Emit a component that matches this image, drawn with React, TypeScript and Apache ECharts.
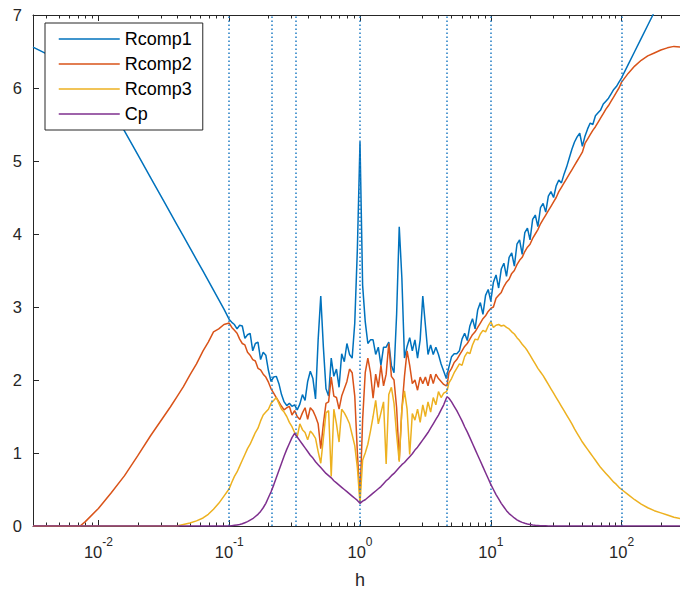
import React, { useEffect, useRef } from "react";
import * as echarts from "echarts";

// ---- data ----
const X_MIN = 0.0031623;
const X_MAX = 316.23;

const h = [
  0.0031623, 0.0039811, 0.0050119, 0.0063096, 0.0072444, 0.0079433, 0.01, 0.012589, 0.015849, 0.019953,
  0.025119, 0.031623, 0.035481, 0.039811, 0.044668, 0.050119, 0.056234, 0.063096, 0.069183, 0.075858,
  0.083176, 0.091201,
  0.1, 0.10471, 0.10965, 0.11482, 0.12023, 0.12589, 0.13183, 0.13804, 0.14454, 0.15136,
  0.15849, 0.16596, 0.17378, 0.18197, 0.19055, 0.19953, 0.20893, 0.21878, 0.22909, 0.23988,
  0.25119, 0.26303, 0.27542, 0.2884, 0.302, 0.31623, 0.33113, 0.34674, 0.36308, 0.38019,
  0.39811, 0.41687, 0.43652, 0.45709, 0.47863, 0.50119, 0.52481, 0.54954, 0.57544, 0.60256,
  0.63096, 0.66069, 0.69183, 0.72444, 0.75858, 0.79433, 0.83176, 0.87096, 0.91201, 0.95499,
  1, 1.0471, 1.0965, 1.1482, 1.2023, 1.2589, 1.3183, 1.3804, 1.4454, 1.5136,
  1.5849, 1.6596, 1.7378, 1.8197, 1.9055, 1.9953, 2.0893, 2.1878, 2.2909, 2.3988,
  2.5119, 2.6303, 2.7542, 2.884, 3.02, 3.1623, 3.3113, 3.4674, 3.6308, 3.8019,
  3.9811, 4.1687, 4.3652, 4.5709,
  4.6416,
  4.7863, 5.0119, 5.2481, 5.4954, 5.7544, 6.0256, 6.3096, 6.6069, 6.9183, 7.2444,
  7.5858, 7.9433, 8.3176, 8.7096, 9.1201, 9.5499,
  10, 10.471, 10.965, 11.482, 12.023, 12.589, 13.183, 13.804, 14.454, 15.136,
  15.849, 16.596, 17.378, 18.197, 19.055, 19.953, 20.893, 21.878, 22.909, 23.988,
  25.119, 26.303, 27.542, 28.84, 30.2, 31.623, 33.113, 34.674, 36.308, 38.019,
  39.811, 41.687, 43.652, 45.709, 47.863, 50.119, 52.481, 54.954, 57.544, 60.256,
  63.096, 66.069, 69.183, 72.444, 75.858, 79.433, 83.176, 87.096, 91.201, 95.499,
  100, 112.2, 125.89, 141.25, 158.49, 177.83, 199.53, 223.87, 251.19, 281.84, 316.23,
];

const rcomp1 = [
  6.56, 6.47, 6.40, 6.29, 6.20, 6.14, 5.95, 5.70, 5.41, 5.09,
  4.77, 4.45, 4.29, 4.13, 3.97, 3.81, 3.65, 3.49, 3.36, 3.23,
  3.10, 2.97,
  2.83, 2.79, 2.76, 2.70, 2.75, 2.74, 2.57, 2.62, 2.64, 2.40,
  2.50, 2.52, 2.28, 2.38, 2.34, 2.13, 1.98, 2.04, 2.05, 1.95,
  1.80, 1.70, 1.65, 1.68, 1.64, 1.66, 1.59, 1.67, 1.80, 1.72,
  1.98, 2.12, 2.02, 1.74, 2.55, 3.15, 2.45, 1.88, 1.78, 2.30,
  2.05, 2.15, 1.90, 2.36, 2.25, 2.50, 2.35, 2.30, 2.78, 3.80,
  5.26, 3.30, 2.80, 2.50, 2.55, 2.55, 2.35, 2.45, 2.20, 2.45,
  2.45, 2.52, 2.20, 2.10, 2.90, 4.10, 3.40, 2.30, 2.46, 2.58,
  2.40, 2.55, 2.30, 2.55, 3.15, 2.75, 2.35, 2.48, 2.35, 2.45,
  2.35, 2.22, 2.12, 2.02,
  2.08,
  2.18, 2.32, 2.36, 2.36, 2.40, 2.56, 2.64, 2.54, 2.74, 2.84,
  2.70, 2.96, 3.06, 2.90, 3.16, 3.24,
  3.08, 3.34, 3.44, 3.26, 3.52, 3.60, 3.42, 3.68, 3.74, 3.56,
  3.86, 3.92, 3.72, 4.02, 4.08, 3.92, 4.20, 4.26, 4.10, 4.36,
  4.42, 4.30, 4.52, 4.58, 4.50, 4.66, 4.74, 4.70, 4.82, 4.92,
  5.04, 5.16, 5.26, 5.33, 5.38, 5.20, 5.34, 5.44, 5.52, 5.50,
  5.62, 5.66, 5.70, 5.78, 5.82, 5.86, 5.92, 5.98, 6.02, 6.08,
  6.14, 6.32, 6.50, 6.68, 6.86, 7.04, 7.22, 7.40, 7.58, 7.76, 7.94,
];

const rcomp2 = [
  0, 0, 0, 0, 0, 0.06, 0.24, 0.46, 0.69, 0.96,
  1.24, 1.50, 1.63, 1.77, 1.91, 2.07, 2.22, 2.40, 2.52, 2.66,
  2.70, 2.76,
  2.78, 2.72, 2.68, 2.64, 2.56, 2.50, 2.48, 2.38, 2.34, 2.28,
  2.26, 2.16, 2.14, 2.08, 2.04, 1.97, 1.88, 1.82, 1.76, 1.70,
  1.64, 1.59, 1.62, 1.64, 1.52, 1.58, 1.50, 1.46, 1.55, 1.62,
  1.46, 1.62, 1.58, 1.50, 1.40, 1.06, 1.40, 1.68, 1.70, 2.04,
  1.78, 1.76, 1.60, 1.78, 1.88, 1.98, 2.15, 2.10, 1.78, 1.00,
  0.38, 1.45, 2.10, 2.30, 2.10, 1.75, 2.08, 1.90, 2.20, 1.92,
  2.08, 2.50, 2.05, 2.00, 1.62, 0.90, 1.60, 2.05, 2.40, 2.20,
  1.95, 2.00, 1.86, 2.04, 1.95, 2.04, 1.92, 2.08, 1.95, 2.08,
  2.02, 1.98, 1.94, 1.92,
  1.94,
  2.10, 2.16, 2.24, 2.28, 2.34, 2.40, 2.46, 2.50, 2.56, 2.62,
  2.66, 2.72, 2.78, 2.84, 2.88, 2.94,
  2.98, 3.00, 3.12, 3.16, 3.20, 3.28, 3.34, 3.38, 3.46, 3.50,
  3.58, 3.64, 3.68, 3.76, 3.82, 3.86, 3.94, 4.00, 4.06, 4.14,
  4.20, 4.26, 4.32, 4.38, 4.44, 4.50, 4.58, 4.64, 4.70, 4.76,
  4.82, 4.88, 4.94, 5.00, 5.06, 5.12, 5.24, 5.30, 5.36, 5.42,
  5.47, 5.53, 5.59, 5.65, 5.71, 5.76, 5.82, 5.88, 5.94, 6.00,
  6.08, 6.20, 6.30, 6.38, 6.44, 6.48, 6.52, 6.55, 6.57, 6.56, 6.56,
];

const rcomp3 = [
  0, 0, 0, 0, 0, 0, 0, 0, 0, 0,
  0, 0, 0, 0, 0.02, 0.04, 0.07, 0.11, 0.16, 0.23,
  0.31, 0.41,
  0.51, 0.60, 0.68, 0.74, 0.82, 0.90, 0.98, 1.06, 1.12, 1.20,
  1.28, 1.34, 1.44, 1.52, 1.56, 1.60, 1.68, 1.72, 1.76, 1.68,
  1.60, 1.56, 1.50, 1.42, 1.36, 1.28, 1.22, 1.40, 1.32, 1.28,
  1.18, 1.30, 1.26, 1.20, 1.02, 0.86, 1.20, 1.55, 1.58, 0.68,
  1.60, 1.40, 1.15, 1.60, 1.55, 1.48, 1.40, 1.25, 1.10, 0.80,
  0.31, 0.90, 1.00, 1.12, 1.30, 1.50, 1.72, 1.40, 1.55, 1.70,
  0.85, 1.80, 1.90, 1.68, 1.25, 0.88, 1.60, 1.85, 1.60, 0.98,
  1.54, 1.45, 1.60, 1.42, 1.66, 1.50, 1.70, 1.56, 1.76, 1.66,
  1.84, 1.76, 1.82, 1.84,
  1.86,
  1.96, 2.02, 2.10, 2.16, 2.22, 2.20, 2.32, 2.38, 2.36, 2.48,
  2.56, 2.55, 2.63, 2.68, 2.66, 2.74,
  2.80, 2.72, 2.75, 2.76, 2.74, 2.75, 2.72, 2.70, 2.66, 2.63,
  2.58, 2.54, 2.49, 2.45, 2.40, 2.34, 2.28, 2.22, 2.16, 2.11,
  2.06, 2.00, 1.94, 1.88, 1.82, 1.76, 1.70, 1.64, 1.58, 1.52,
  1.46, 1.40, 1.33, 1.27, 1.21, 1.15, 1.10, 1.05, 1.00, 0.95,
  0.90, 0.85, 0.80, 0.76, 0.72, 0.68, 0.64, 0.60, 0.57, 0.53,
  0.50, 0.43, 0.36, 0.30, 0.25, 0.21, 0.18, 0.15, 0.12, 0.10, 0.08,
];

const cp = [
  0, 0, 0, 0, 0, 0, 0, 0, 0, 0,
  0, 0, 0, 0, 0, 0, 0, 0, 0, 0,
  0, 0,
  0, 0.005, 0.01, 0.015, 0.02, 0.03, 0.045, 0.06, 0.08, 0.10,
  0.13, 0.16, 0.20, 0.25, 0.31, 0.39, 0.47, 0.56, 0.66, 0.76,
  0.86, 0.96, 1.05, 1.13, 1.21, 1.27, 1.22, 1.17, 1.12, 1.07,
  1.02, 0.97, 0.93, 0.88, 0.84, 0.80, 0.76, 0.72, 0.69, 0.66,
  0.62, 0.59, 0.56, 0.53, 0.50, 0.47, 0.44, 0.41, 0.38, 0.35,
  0.31, 0.34, 0.36, 0.39, 0.42, 0.45, 0.48, 0.51, 0.54, 0.58,
  0.62, 0.65, 0.69, 0.72, 0.76, 0.80, 0.84, 0.87, 0.91, 0.95,
  0.99, 1.04, 1.08, 1.13, 1.18, 1.23, 1.28, 1.34, 1.40, 1.46,
  1.52, 1.59, 1.66, 1.75,
  1.77,
  1.75, 1.70, 1.64, 1.58, 1.51, 1.44, 1.36, 1.29, 1.21, 1.13,
  1.05, 0.97, 0.89, 0.81, 0.73, 0.65,
  0.57, 0.50, 0.43, 0.37, 0.31, 0.26, 0.21, 0.17, 0.14, 0.11,
  0.085, 0.065, 0.05, 0.038, 0.028, 0.02, 0.015, 0.011, 0.008, 0.005,
  0.003, 0.002, 0.001, 0, 0, 0, 0, 0, 0, 0,
  0, 0, 0, 0, 0, 0, 0, 0, 0, 0,
  0, 0, 0, 0, 0, 0, 0, 0, 0, 0,
  0, 0, 0, 0, 0, 0, 0, 0, 0, 0, 0,
];

const seriesNames = ["Rcomp1", "Rcomp2", "Rcomp3", "Cp"];
const seriesColors = ["#0072BD", "#D95319", "#EDB120", "#7E2F8E"];
const xMajorTicks = [0.01, 0.1, 1, 10, 100];
const xMinorTicks = [
  0.004, 0.005, 0.006, 0.007, 0.008, 0.009,
  0.02, 0.03, 0.04, 0.05, 0.06, 0.07, 0.08, 0.09,
  0.2, 0.3, 0.4, 0.5, 0.6, 0.7, 0.8, 0.9,
  2, 3, 4, 5, 6, 7, 8, 9,
  20, 30, 40, 50, 60, 70, 80, 90,
  200, 300,
];
const markerH = [0.1, 0.215, 0.316, 1, 4.64, 10, 100];

export default function App() {
  const ref = useRef<HTMLDivElement>(null);

  useEffect(() => {
    if (!ref.current) return;
    const chart = echarts.init(ref.current, null, { renderer: "svg" });
    const font = "'Liberation Sans', Arial, Helvetica, sans-serif";
    const axisColor = "#262626";

    const xBase = (position: string) => ({
      type: "log",
      logBase: 10,
      min: X_MIN,
      max: X_MAX,
      gridIndex: 0,
      position,
      splitLine: { show: false },
      minorTick: { show: false },
      axisPointer: { show: false },
    });

    const allSeries = [rcomp1, rcomp2, rcomp3, cp];

    const option: any = {
      animation: false,
      backgroundColor: "#ffffff",
      grid: {
        left: 33,
        right: -7,
        top: 15,
        bottom: 73,
        containLabel: false,
        outerBoundsMode: "none",
      },
      legend: {
        data: seriesNames,
        orient: "vertical",
        left: 45,
        top: 23,
        backgroundColor: "#ffffff",
        borderColor: axisColor,
        borderWidth: 1,
        borderRadius: 0,
        padding: [7, 11, 7, 13],
        itemWidth: 61,
        itemHeight: 14,
        itemGap: 7,
        selectedMode: false,
        itemStyle: { opacity: 0 },
        lineStyle: { width: 1.5 },
        textStyle: { fontSize: 18, color: "#000", fontFamily: font },
      },
      xAxis: [
        {
          ...xBase("bottom"),
          name: "h",
          nameLocation: "middle",
          nameGap: 45,
          nameTextStyle: { fontSize: 18, color: axisColor, fontFamily: font },
          axisLine: { show: true, onZero: false, lineStyle: { color: axisColor, width: 1 } },
          axisTick: {
            show: true,
            inside: true,
            length: 6,
            customValues: xMajorTicks,
            lineStyle: { color: axisColor, width: 1 },
          },
          axisLabel: {
            show: true,
            customValues: xMajorTicks,
            margin: 10,
            formatter: (v: number) => `{b|10}{s|${Math.round(Math.log10(v))}}`,
            rich: {
              b: { fontSize: 16.5, fontFamily: font, color: axisColor, lineHeight: 24, verticalAlign: "bottom" },
              s: { fontSize: 12, fontFamily: font, color: axisColor, lineHeight: 11, verticalAlign: "top" },
            },
          },
        },
        {
          ...xBase("bottom"),
          axisLine: { show: false, onZero: false },
          axisLabel: { show: false },
          axisTick: {
            show: true,
            inside: true,
            length: 3.5,
            customValues: xMinorTicks,
            lineStyle: { color: axisColor, width: 1 },
          },
        },
        {
          ...xBase("top"),
          axisLine: { show: true, onZero: false, lineStyle: { color: axisColor, width: 1 } },
          axisLabel: { show: false },
          axisTick: {
            show: true,
            inside: true,
            length: 6,
            customValues: xMajorTicks,
            lineStyle: { color: axisColor, width: 1 },
          },
        },
        {
          ...xBase("top"),
          axisLine: { show: false, onZero: false },
          axisLabel: { show: false },
          axisTick: {
            show: true,
            inside: true,
            length: 3.5,
            customValues: xMinorTicks,
            lineStyle: { color: axisColor, width: 1 },
          },
        },
      ],
      yAxis: [
        {
          type: "value",
          min: 0,
          max: 7,
          interval: 1,
          position: "left",
          splitLine: { show: false },
          axisLine: { show: true, onZero: false, lineStyle: { color: axisColor, width: 1 } },
          axisTick: { show: true, inside: true, length: 6, lineStyle: { color: axisColor, width: 1 } },
          axisLabel: { show: true, margin: 11, fontSize: 16.5, color: axisColor, fontFamily: font },
        },
      ],
      series: seriesNames.map((name, k) => ({
        type: "line",
        name,
        xAxisIndex: 0,
        yAxisIndex: 0,
        data: h.map((x, i) => [x, allSeries[k][i]]),
        symbol: "none",
        showSymbol: false,
        clip: true,
        z: 2 + k,
        lineStyle: { width: 1.5, color: seriesColors[k] },
        itemStyle: { color: seriesColors[k] },
        emphasis: { disabled: true },
        markLine:
          k === 3
            ? {
                silent: true,
                symbol: "none",
                animation: false,
                label: { show: false },
                emphasis: { disabled: true },
                lineStyle: { color: "#1F7CC4", type: [1.6, 2.4], width: 1.5 },
                data: markerH.map((v) => ({ xAxis: v })),
              }
            : undefined,
      })),
    };

    chart.setOption(option);
    return () => chart.dispose();
  }, []);

  return (
    <div
      ref={ref}
      style={{ position: "fixed", left: 0, top: 0, width: 680, height: 599, background: "#fff" }}
    />
  );
}
